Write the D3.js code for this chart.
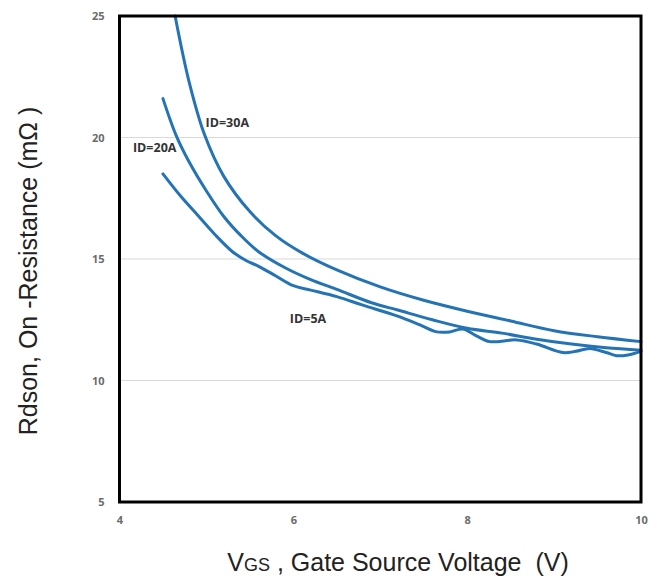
<!DOCTYPE html>
<html>
<head>
<meta charset="utf-8">
<script src="https://cdn.jsdelivr.net/npm/d3@7"></script>
<style>
  body { margin: 0; background: #fff; }
  svg { font-family: "Liberation Sans", Arial, sans-serif; }
</style>
</head>
<body>
<svg width="665" height="580"></svg>
<script>
// gate voltage (V) and on-resistance (mOhm)
var vgs30 = [4.64, 4.8, 4.98, 5.2, 5.5, 5.8, 6.1, 6.5, 7.0, 7.5, 8.0, 8.5, 9.0, 9.5, 10];
var rds30 = [25, 22.3, 20.1, 18.4, 16.95, 15.95, 15.25, 14.55, 13.85, 13.3, 12.85, 12.45, 12.05, 11.8, 11.6];

var vgs20 = [4.5, 4.65, 4.8, 5.0, 5.2, 5.4, 5.6, 5.9, 6.2, 6.5, 6.9, 7.2, 7.6, 8.0, 8.4, 8.8, 9.2, 9.6, 10];
var rds20 = [21.6, 20.1, 19.0, 17.8, 16.75, 15.95, 15.3, 14.65, 14.15, 13.75, 13.2, 12.9, 12.5, 12.15, 11.95, 11.7, 11.5, 11.35, 11.25];

var vgs5 = [4.5, 4.7, 4.9, 5.1, 5.3, 5.45, 5.6, 5.8, 6.0, 6.2, 6.5, 6.8, 7.2, 7.45, 7.65, 7.8, 7.95, 8.1, 8.26, 8.57, 8.8, 9.1, 9.25, 9.41, 9.6, 9.72, 9.85, 10];
var rds5 = [18.5, 17.6, 16.8, 16.0, 15.3, 14.95, 14.7, 14.3, 13.9, 13.72, 13.45, 13.1, 12.65, 12.3, 12.0, 12.0, 12.12, 11.85, 11.6, 11.67, 11.5, 11.15, 11.2, 11.32, 11.15, 11.02, 11.05, 11.2];

var xTicks = [4, 6, 8, 10];
var yTicks = [5, 10, 15, 20, 25];
var gridValues = [10, 15, 20];

var curves = [
    { name: "ID=30A", v: vgs30, r: rds30, lx: 4.99, ly: 20.42 },
    { name: "ID=20A", v: vgs20, r: rds20, lx: 4.155, ly: 19.4 },
    { name: "ID=5A", v: vgs5, r: rds5, lx: 5.96, ly: 12.37 }
];

var plotLeft = 119.5, plotRight = 641, plotTop = 16, plotBottom = 502;

var x = d3.scaleLinear().domain([4, 10]).range([plotLeft, plotRight]);
var y = d3.scaleLinear().domain([5, 25]).range([plotBottom, plotTop]);

var svg = d3.select("svg");

// grid
svg.append("g")
    .selectAll("line")
    .data(gridValues)
    .enter()
    .append("line")
    .attr("x1", plotLeft)
    .attr("x2", plotRight)
    .attr("y1", function (d) { return y(d); })
    .attr("y2", function (d) { return y(d); })
    .attr("stroke", "#d9d9d9")
    .attr("stroke-width", 1.2);

// tick labels
var yAxis = d3.axisLeft(y).tickValues(yTicks).tickSize(0).tickPadding(15).tickFormat(d3.format("d"));
var xAxis = d3.axisBottom(x).tickValues(xTicks).tickSize(0).tickPadding(14).tickFormat(d3.format("d"));

var gy = svg.append("g")
    .attr("transform", "translate(" + plotLeft + ",0)")
    .call(yAxis);
var gx = svg.append("g")
    .attr("transform", "translate(0," + plotBottom + ")")
    .call(xAxis);

[gy, gx].forEach(function (g) {
    g.select(".domain").remove();
    g.selectAll("text")
        .attr("fill", "#6b6b6b")
        .style("font-size", "11px")
        .style("font-family", "'Open Sans', 'DejaVu Sans', sans-serif")
        .style("font-weight", "bold");
});

// curves
var line = d3.line()
    .x(function (d) { return x(d[0]); })
    .y(function (d) { return y(d[1]); })
    .curve(d3.curveCatmullRom.alpha(0.5));

svg.append("g")
    .selectAll("path")
    .data(curves)
    .enter()
    .append("path")
    .attr("d", function (c) { return line(d3.zip(c.v, c.r)); })
    .attr("fill", "none")
    .attr("stroke", "#2474b5")
    .attr("stroke-width", 3)
    .attr("stroke-linecap", "round");

svg.append("g")
    .selectAll("text")
    .data(curves)
    .enter()
    .append("text")
    .attr("x", function (c) { return x(c.lx); })
    .attr("y", function (c) { return y(c.ly); })
    .attr("fill", "#333")
    .style("font-size", "12.5px")
    .style("font-family", "'Open Sans', 'DejaVu Sans', sans-serif")
    .style("font-weight", "bold")
    .text(function (c) { return c.name; });

// frame
svg.append("rect")
    .attr("x", plotLeft)
    .attr("y", plotTop)
    .attr("width", plotRight - plotLeft)
    .attr("height", plotBottom - plotTop)
    .attr("fill", "none")
    .attr("stroke", "#000")
    .attr("stroke-width", 3);

// axis titles
svg.append("text")
    .attr("transform", "translate(37,271) rotate(-90)")
    .attr("text-anchor", "middle")
    .attr("fill", "#222")
    .style("font-size", "25px")
    .text("Rdson, On -Resistance (mΩ )");

var xt = svg.append("text")
    .attr("x", 398)
    .attr("y", 571)
    .attr("text-anchor", "middle")
    .attr("fill", "#222")
    .style("font-size", "25px")
    .style("white-space", "pre");
xt.append("tspan").text("V");
xt.append("tspan").style("font-size", "18px").text("GS");
xt.append("tspan").text(" , Gate Source Voltage  (V)");
</script>
</body>
</html>
